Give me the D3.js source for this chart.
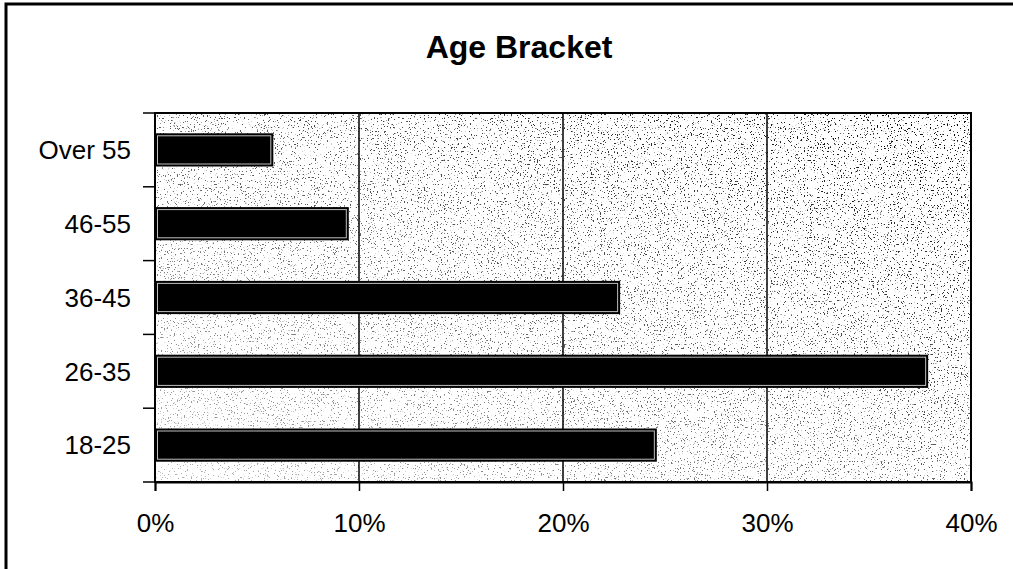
<!DOCTYPE html>
<html>
<head>
<meta charset="utf-8">
<script src="https://cdn.jsdelivr.net/npm/d3@7"></script>
<style>
  html, body { margin: 0; padding: 0; background: #fff; }
  svg { display: block; }
  text { font-family: "Liberation Sans", Arial, sans-serif; fill: #000; }
</style>
</head>
<body>
<svg id="chart" width="1013" height="569"></svg>
<script>
// ---- data ----
const title = "Age Bracket";
const categories = ["18-25", "26-35", "36-45", "46-55", "Over 55"];
const shares = [0.246, 0.379, 0.228, 0.095, 0.058];
const xTickValues = [0, 0.1, 0.2, 0.3, 0.4];
const gridValues = [0.1, 0.2, 0.3];

// ---- layout ----
const svg = d3.select("#chart");
const plot = { left: 155, right: 971, top: 113, bottom: 482 };

const x = d3.scaleLinear().domain([0, 0.4]).range([plot.left, plot.right]);
const y = d3.scaleBand().domain(categories).range([plot.bottom, plot.top])
  .paddingInner(0.55).paddingOuter(0.275);

// outer frame (only top & left visible)
svg.append("rect").attr("x", 6).attr("y", 4).attr("width", 1200).attr("height", 800)
  .attr("fill", "none").attr("stroke", "#000").attr("stroke-width", 3);

// title
svg.append("text").attr("x", 519).attr("y", 58).attr("text-anchor", "middle")
  .style("font-weight", "bold").style("font-size", "32px").text(title);

// speckled background
const defs = svg.append("defs");
const f = defs.append("filter").attr("id", "speckle")
  .attr("x", 0).attr("y", 0).attr("width", 1).attr("height", 1);
f.append("feTurbulence").attr("type", "fractalNoise").attr("baseFrequency", "0.7")
  .attr("numOctaves", 2).attr("seed", 7).attr("result", "n");
f.append("feColorMatrix").attr("in", "n").attr("type", "matrix")
  .attr("values", "0 0 0 0 0  0 0 0 0 0  0 0 0 0 0  16 0 0 0 -10.2");
const grad = defs.append("linearGradient").attr("id", "dens")
  .attr("x1", 0).attr("y1", 1).attr("x2", 1).attr("y2", 0);
grad.append("stop").attr("offset", "0").attr("stop-color", "#fff").attr("stop-opacity", 0.3);
grad.append("stop").attr("offset", "0.5").attr("stop-color", "#fff").attr("stop-opacity", 0.65);
grad.append("stop").attr("offset", "1").attr("stop-color", "#fff").attr("stop-opacity", 1);
const mask = defs.append("mask").attr("id", "densMask");
mask.append("rect").attr("x", plot.left).attr("y", plot.top)
  .attr("width", plot.right - plot.left).attr("height", plot.bottom - plot.top)
  .attr("fill", "url(#dens)");

svg.append("rect").attr("x", plot.left).attr("y", plot.top)
  .attr("width", plot.right - plot.left).attr("height", plot.bottom - plot.top)
  .attr("fill", "#fff");
svg.append("g").attr("mask", "url(#densMask)")
  .append("rect").attr("x", plot.left).attr("y", plot.top)
  .attr("width", plot.right - plot.left).attr("height", plot.bottom - plot.top)
  .attr("filter", "url(#speckle)");

// gridlines
svg.append("g").selectAll("line").data(gridValues).join("line")
  .attr("x1", d => x(d)).attr("x2", d => x(d))
  .attr("y1", plot.top).attr("y2", plot.bottom)
  .attr("stroke", "#000").attr("stroke-width", 1.5);

// bars
const bars = svg.append("g");
categories.forEach((c, i) => {
  const x0 = x(0), x1 = x(shares[i]), yy = y(c), h = y.bandwidth();
  bars.append("rect").attr("x", x0).attr("y", yy).attr("width", x1 - x0).attr("height", h)
    .attr("fill", "#000");
  bars.append("rect").attr("x", x0 + 2.5).attr("y", yy + 2.5)
    .attr("width", x1 - x0 - 5).attr("height", h - 5)
    .attr("fill", "none").attr("stroke", "#fff").attr("stroke-width", 1)
    .attr("opacity", 0.75);
});

// plot border
svg.append("rect").attr("x", plot.left).attr("y", plot.top)
  .attr("width", plot.right - plot.left).attr("height", plot.bottom - plot.top)
  .attr("fill", "none").attr("stroke", "#000").attr("stroke-width", 2);

// x axis
const xAxis = d3.axisBottom(x).tickValues(xTickValues).tickFormat(d3.format(".0%"))
  .tickSize(9).tickPadding(23);
const gx = svg.append("g").attr("transform", `translate(0,${plot.bottom})`).call(xAxis);
gx.select(".domain").attr("stroke", "#000").attr("stroke-width", 2);
gx.selectAll(".tick line").attr("stroke", "#000").attr("stroke-width", 1.5);
gx.selectAll(".tick text").style("font-size", "26px").style("font-family", "'Liberation Sans', Arial, sans-serif").attr("fill", "#000");

// y axis: labels at band centres, ticks at band boundaries
const step = y.step();
const boundaries = d3.range(categories.length + 1).map(k => plot.bottom - k * step);
svg.append("g").selectAll("line").data(boundaries).join("line")
  .attr("x1", plot.left - 12).attr("x2", plot.left)
  .attr("y1", d => d).attr("y2", d => d)
  .attr("stroke", "#000").attr("stroke-width", 1.5);
svg.append("g").selectAll("text").data(categories).join("text")
  .attr("x", 131).attr("y", d => y(d) + y.bandwidth() / 2)
  .attr("dy", "0.36em").attr("text-anchor", "end")
  .style("font-size", "26px").text(d => d);
</script>
</body>
</html>
